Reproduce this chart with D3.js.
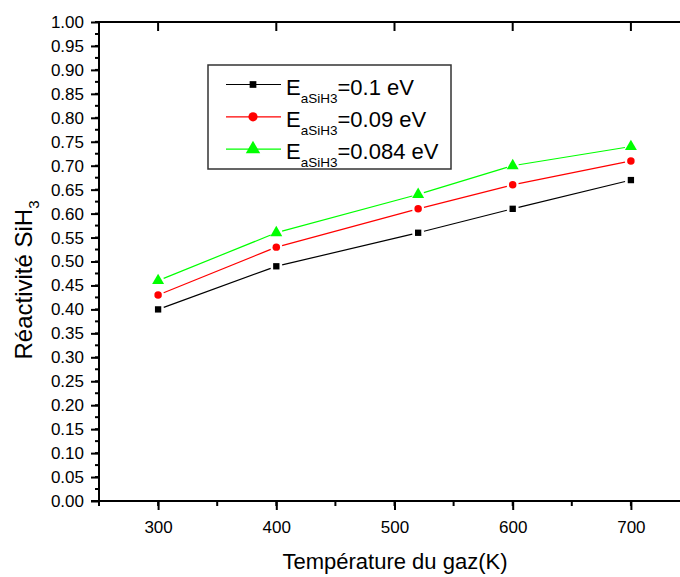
<!DOCTYPE html>
<html>
<head>
<meta charset="utf-8">
<script src="https://cdn.jsdelivr.net/npm/d3@7"></script>
<style>
    body { margin: 0; background: #fff; }
    text { font-family: Arial, "Liberation Sans", sans-serif; }
</style>
</head>
<body>
<svg id="chart" width="680" height="577"></svg>
<script>
const temperatures = [300, 400, 520, 600, 700];
const react01 = [0.40, 0.49, 0.56, 0.61, 0.67];
const react009 = [0.43, 0.53, 0.61, 0.66, 0.71];
const react0084 = [0.46, 0.56, 0.64, 0.70, 0.74];
const legendValues = ["0.1 eV", "0.09 eV", "0.084 eV"];
const xTicks = [300, 400, 500, 600, 700];

const series = [
    { values: react01, color: "#000000", symbol: d3.symbolSquare, size: 40, legendSize: 45, label: legendValues[0] },
    { values: react009, color: "#ff0000", symbol: d3.symbolCircle, size: 44, legendSize: 66, label: legendValues[1] },
    { values: react0084, color: "#00ff00", symbol: d3.symbolTriangle, size: 62, legendSize: 90, label: legendValues[2] }
];

const svg = d3.select("#chart");
const plotLeft = 99, plotTop = 22, plotBottom = 501, plotRight = 690;
const fontStack = "Arial, 'Liberation Sans', sans-serif";

const x = d3.scaleLinear().domain([250, 750]).range([plotLeft, plotRight]);
const y = d3.scaleLinear().domain([0, 1]).range([plotBottom, plotTop]);

// minor ticks
const yMinor = d3.range(0, 1.0001, 0.025);
const xMinor = d3.range(250, 751, 50);

const axes = svg.append("g");

// left axis
axes.append("g").attr("transform", `translate(${plotLeft},0)`)
    .call(d3.axisLeft(y).tickValues(d3.range(0, 1.0001, 0.05)).tickFormat(d3.format(".2f")).tickSize(8).tickPadding(7))
    .call(g => g.select(".domain").remove())
    .call(g => g.selectAll("line").attr("stroke-width", 2))
    .call(g => g.selectAll("text").attr("font-size", 17).attr("fill", "#000").attr("font-family", fontStack));
axes.append("g").selectAll("line").data(yMinor).join("line")
    .attr("x1", plotLeft - 4).attr("x2", plotLeft).attr("y1", d => y(d)).attr("y2", d => y(d))
    .attr("stroke", "#000").attr("stroke-width", 2);

// bottom axis
axes.append("g").attr("transform", `translate(0,${plotBottom})`)
    .call(d3.axisBottom(x).tickValues(xTicks).tickFormat(d3.format("d")).tickSize(9).tickPadding(11))
    .call(g => g.select(".domain").remove())
    .call(g => g.selectAll("line").attr("stroke-width", 2))
    .call(g => g.selectAll("text").attr("font-size", 17).attr("fill", "#000").attr("font-family", fontStack));
axes.append("g").selectAll("line").data(xMinor).join("line")
    .attr("x1", d => x(d)).attr("x2", d => x(d)).attr("y1", plotBottom).attr("y2", plotBottom + 5)
    .attr("stroke", "#000").attr("stroke-width", 2);

// top axis (inward ticks, no labels)
axes.append("g").selectAll("line").data(xTicks).join("line")
    .attr("x1", d => x(d)).attr("x2", d => x(d)).attr("y1", plotTop).attr("y2", plotTop + 9)
    .attr("stroke", "#000").attr("stroke-width", 2);

// frame lines
axes.append("line").attr("x1", plotLeft - 8).attr("x2", plotRight).attr("y1", plotBottom).attr("y2", plotBottom)
    .attr("stroke", "#000").attr("stroke-width", 2);
axes.append("line").attr("x1", plotLeft).attr("x2", plotRight).attr("y1", plotTop).attr("y2", plotTop)
    .attr("stroke", "#000").attr("stroke-width", 2);
axes.append("line").attr("x1", plotLeft).attr("x2", plotLeft).attr("y1", plotTop).attr("y2", plotBottom + 5)
    .attr("stroke", "#000").attr("stroke-width", 2);

// axis titles
svg.append("text").attr("x", 395).attr("y", 569).attr("text-anchor", "middle")
    .attr("font-size", 22).text("Température du gaz(K)");
const yl = svg.append("text").attr("transform", "translate(32,280) rotate(-90)")
    .attr("text-anchor", "middle").attr("font-size", 24);
yl.append("tspan").text("Réactivité SiH");
yl.append("tspan").attr("font-size", 15).attr("dy", 7).text("3");

// series lines with small gaps around markers
const gap = 6;
series.forEach(s => {
    const pts = temperatures.map((t, i) => [x(t), y(s.values[i])]);
    const g = svg.append("g");
    for (let i = 0; i < pts.length - 1; i++) {
        const [x1, y1] = pts[i], [x2, y2] = pts[i + 1];
        const len = Math.hypot(x2 - x1, y2 - y1);
        const ux = (x2 - x1) / len, uy = (y2 - y1) / len;
        g.append("line")
            .attr("x1", x1 + ux * gap).attr("y1", y1 + uy * gap)
            .attr("x2", x2 - ux * gap).attr("y2", y2 - uy * gap)
            .attr("stroke", s.color).attr("stroke-width", 1.2);
    }
    g.selectAll("path").data(pts).join("path")
        .attr("transform", d => `translate(${d[0]},${d[1]})`)
        .attr("d", d3.symbol().type(s.symbol).size(s.size))
        .attr("fill", s.color);
});

// legend
const legend = svg.append("g");
legend.append("rect").attr("x", 208).attr("y", 65).attr("width", 243).attr("height", 104)
    .attr("fill", "#fff").attr("stroke", "#333").attr("stroke-width", 1.5);
series.forEach((s, i) => {
    const cy = 84.5 + i * 32.3;
    legend.append("line").attr("x1", 226).attr("x2", 281).attr("y1", cy).attr("y2", cy)
        .attr("stroke", s.color).attr("stroke-width", 1.2);
    legend.append("path").attr("transform", `translate(253,${cy})`)
        .attr("d", d3.symbol().type(s.symbol).size(s.legendSize)).attr("fill", s.color);
    const t = legend.append("text").attr("x", 286).attr("y", cy + 10).attr("font-size", 22);
    t.append("tspan").text("E");
    t.append("tspan").attr("font-size", 13.5).attr("dy", 8).text("aSiH3");
    t.append("tspan").attr("dy", -8).text("=" + s.label);
});
</script>
</body>
</html>
